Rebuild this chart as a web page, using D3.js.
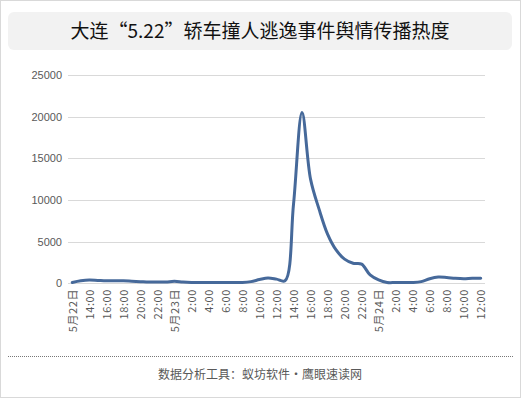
<!DOCTYPE html>
<html>
<head>
<meta charset="utf-8">
<script src="https://cdn.jsdelivr.net/npm/d3@7"></script>
<style>
body { margin: 0; background: #fff; }
svg { display: block; }
</style>
</head>
<body>
<script>
// hourly categories, 5月22日 12:00 -> 5月24日 12:00
var categories = ["5月22日","13:00","14:00","15:00","16:00","17:00","18:00","19:00","20:00","21:00","22:00","23:00",
	"5月23日","1:00","2:00","3:00","4:00","5:00","6:00","7:00","8:00","9:00","10:00","11:00",
	"12:00","13:00","14:00","15:00","16:00","17:00","18:00","19:00","20:00","21:00","22:00","23:00",
	"5月24日","1:00","2:00","3:00","4:00","5:00","6:00","7:00","8:00","9:00","10:00","11:00","12:00"];
var values = [100,300,400,350,300,300,300,250,200,150,150,150,
	250,150,100,100,100,100,100,100,100,200,450,650,
	500,300,9500,20500,12500,8900,5900,4000,2900,2400,2300,1000,
	400,100,100,100,100,200,550,750,700,600,550,600,600];
var yTicks = [0,5000,10000,15000,20000,25000];

var title = "大连“5.22”轿车撞人逃逸事件舆情传播热度";
var footer = "数据分析工具：蚁坊软件・鹰眼速读网";

var W = 521, H = 398;
var svg = d3.select("body").append("svg").attr("width", W).attr("height", H);

svg.append("rect")//outer frame
	.attr("x", 0.5).attr("y", 0.5)
	.attr("width", W - 1).attr("height", H - 1)
	.attr("fill", "#fff").attr("stroke", "#d9d9d9");

svg.append("rect")//title box
	.attr("x", 8).attr("y", 12)
	.attr("width", 504).attr("height", 38)
	.attr("rx", 6)
	.attr("fill", "#f2f2f2");

svg.append("text")
	.attr("x", 260).attr("y", 38)
	.attr("text-anchor", "middle")
	.attr("font-family", "'Noto Sans CJK SC', sans-serif")
	.attr("font-size", 19)
	.attr("fill", "#111")
	.text(title);

var x = d3.scalePoint().domain(d3.range(categories.length)).range([68, 485]).padding(0.5);
var y = d3.scaleLinear().domain([0, 25000]).range([283.3, 75]);

// gridlines
svg.append("g").selectAll("line").data(yTicks).join("line")
	.attr("x1", 68).attr("x2", 485)
	.attr("y1", function(d){ return Math.round(y(d)) + 0.5; })
	.attr("y2", function(d){ return Math.round(y(d)) + 0.5; })
	.attr("stroke", "#d9d9d9").attr("stroke-width", 1);

var yAxis = svg.append("g")
	.attr("transform", "translate(62,0)")
	.call(d3.axisLeft(y).tickValues(yTicks).tickSize(0).tickPadding(0).tickFormat(d3.format("d")));
yAxis.select(".domain").remove();
yAxis.selectAll("text")
	.attr("font-family", "'Liberation Sans', Arial, sans-serif")
	.attr("font-size", 11)
	.attr("fill", "#595959");

var xAxis = svg.append("g")
	.attr("transform", "translate(0,289)")
	.call(d3.axisBottom(x)
		.tickValues(d3.range(0, categories.length, 2))
		.tickSize(0)
		.tickFormat(function(i){ return categories[i]; }));
xAxis.select(".domain").remove();
xAxis.selectAll("text")
	.attr("font-family", "'Noto Sans CJK SC', sans-serif")
	.attr("font-size", 11)
	.attr("fill", "#595959")
	.attr("text-anchor", "end")
	.attr("letter-spacing", 0.6)
	.attr("dy", "0.35em")
	.attr("y", 0)
	.attr("transform", "rotate(-90)");

var line = d3.line()
	.x(function(d, i){ return x(i); })
	.y(function(d){ return y(d); })
	.curve(d3.curveCatmullRom.alpha(0.5));

svg.append("path")
	.datum(values)
	.attr("d", line)
	.attr("fill", "none")
	.attr("stroke", "#46699a")
	.attr("stroke-width", 3)
	.attr("stroke-linejoin", "round")
	.attr("stroke-linecap", "round");

svg.append("line")//dotted separator
	.attr("x1", 8).attr("x2", 513)
	.attr("y1", 356.5).attr("y2", 356.5)
	.attr("stroke", "#777").attr("stroke-dasharray", "1,1");

svg.append("text")
	.attr("x", 260).attr("y", 379)
	.attr("text-anchor", "middle")
	.attr("font-family", "'Noto Sans CJK SC', sans-serif")
	.attr("font-size", 12)
	.attr("fill", "#595959")
	.text(footer);
</script>
</body>
</html>
